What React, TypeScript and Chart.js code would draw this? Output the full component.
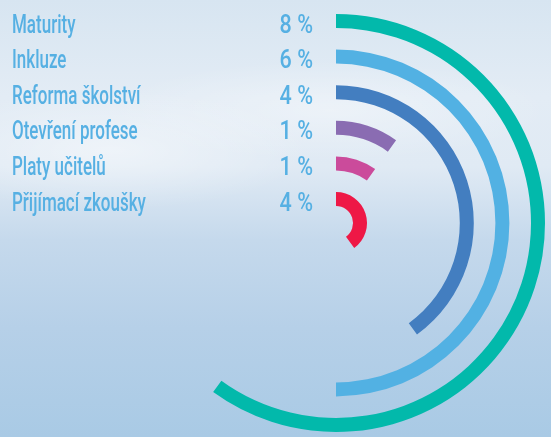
import React, { useEffect, useRef } from "react";
import { Chart, registerables } from "chart.js";

Chart.register(...registerables);

const categories = ["Maturity", "Inkluze", "Reforma školství", "Otevření profese", "Platy učitelů", "Přijímací zkoušky"];
const valueLabels = ["8 %", "6 %", "4 %", "1 %", "1 %", "4 %"];
// share of the full circle that each arc covers (percent)
const arcPercent = [60, 50, 40, 10, 10, 40];
const colors = ["#02b9ab", "#52b1e3", "#437ec0", "#8a6cb2", "#cb4b9b", "#ee1846"];

const RING_WEIGHT = 14;
const GAP_WEIGHT = 21.6;
const TEXT_COLOR = "#56b0e3";

const labelPlugin = {
  id: "sideLabels",
  afterDatasetsDraw(chart: any) {
    const ctx = chart.ctx;
    ctx.save();
    ctx.fillStyle = TEXT_COLOR;
    ctx.font = "500 25px Roboto";
    ctx.textBaseline = "alphabetic";
    categories.forEach((name, i) => {
      const meta = chart.getDatasetMeta(i * 2);
      const arc: any = meta.data[0];
      if (!arc) return;
      const y = arc.y - (arc.outerRadius + arc.innerRadius) / 2 + 11.5;
      ctx.save();
      ctx.translate(12, y);
      ctx.scale(0.68, 1);
      ctx.textAlign = "left";
      ctx.fillText(name, 0, 0);
      ctx.restore();
      ctx.save();
      ctx.translate(313, y);
      ctx.scale(0.86, 1);
      ctx.textAlign = "right";
      ctx.fillText(valueLabels[i], 0, 0);
      ctx.restore();
    });
    ctx.restore();
  },
};

export default function App() {
  const ref = useRef<HTMLCanvasElement>(null);
  useEffect(() => {
    const canvas = ref.current;
    if (!canvas) return;
    const datasets: any[] = [];
    categories.forEach((c, i) => {
      datasets.push({
        label: c,
        data: [arcPercent[i], 100 - arcPercent[i]],
        backgroundColor: [colors[i], "rgba(0,0,0,0)"],
        borderWidth: 0,
        hoverOffset: 0,
        weight: RING_WEIGHT,
      });
      if (i < categories.length - 1) {
        datasets.push({
          label: "gap" + i,
          data: [100],
          backgroundColor: ["rgba(0,0,0,0)"],
          borderWidth: 0,
          hoverOffset: 0,
          weight: GAP_WEIGHT,
        });
      }
    });
    const chart = new Chart(canvas, {
      type: "doughnut",
      data: { labels: ["value", "rest"], datasets },
      options: {
        animation: false,
        responsive: false,
        devicePixelRatio: 1,
        events: [],
        cutout: 17,
        layout: { padding: { left: 127, right: 6, top: 14, bottom: 5 } },
        plugins: { legend: { display: false }, tooltip: { enabled: false } },
      } as any,
      plugins: [labelPlugin],
    });
    return () => chart.destroy();
  }, []);

  return (
    <div
      style={{
        position: "fixed",
        left: 0,
        top: 0,
        width: 551,
        height: 437,
        overflow: "hidden",
        background:
          "radial-gradient(ellipse 200px 60px at 110px 150px, rgba(255,255,255,0.45), rgba(255,255,255,0) 100%)," +
          "radial-gradient(ellipse 220px 50px at 330px 110px, rgba(255,255,255,0.35), rgba(255,255,255,0) 100%)," +
          "linear-gradient(to bottom, #d7e5f1 0%, #e3ecf5 22%, #e0eaf4 38%, #c5d9ec 55%, #b6d0e8 75%, #a9cae5 100%)",
      }}
    >
      <canvas ref={ref} width={551} height={437} style={{ display: "block", width: 551, height: 437 }} />
    </div>
  );
}
